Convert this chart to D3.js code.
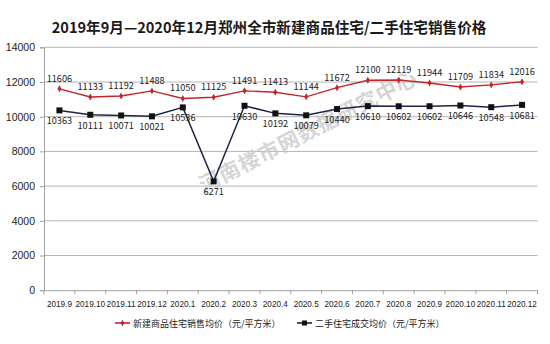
<!DOCTYPE html>
<html><head><meta charset="utf-8">
<script src="https://cdn.jsdelivr.net/npm/d3@7"></script>
<style>body{margin:0;background:#fff;} svg{display:block;}</style>
</head><body>
<svg id="c" width="550" height="344"></svg>
<script>
const categories = ["2019.9","2019.10","2019.11","2019.12","2020.1","2020.2","2020.3","2020.4","2020.5","2020.6","2020.7","2020.8","2020.9","2020.10","2020.11","2020.12"];
const newHomePrice = [11606,11133,11192,11488,11050,11125,11491,11413,11144,11672,12100,12119,11944,11709,11834,12016];
const resalePrice = [10363,10111,10071,10021,10536,6271,10630,10192,10079,10440,10610,10602,10602,10646,10548,10681];
const yTicks = [0,2000,4000,6000,8000,10000,12000,14000];
const seriesNames = ["新建商品住宅销售均价（元/平方米）","二手住宅成交均价（元/平方米）"];
const title = "2019年9月—2020年12月郑州全市新建商品住宅/二手住宅销售价格";
const watermark = "河南楼市网数据研究中心";

const svg = d3.select("#c");
const font = "'Noto Sans CJK SC', 'Noto Sans', sans-serif";
const numFont = "'Liberation Sans', Arial, sans-serif";
const L = 44, R = 537.5, T = 47.3, B = 290.2;
const x = d3.scaleBand().domain(categories).range([L, R]);
const y = d3.scaleLinear().domain([0, 14000]).range([B, T]);
const red = "#c0272d", navy = "#1c2549";

svg.append("text").attr("x", 269).attr("y", 33).attr("text-anchor", "middle")
  .attr("font-family", font).attr("font-weight", "bold").attr("font-size", 14.6).attr("fill", "#1a1a1a").text(title);

// gridlines
svg.append("g").selectAll("line").data(yTicks.filter(d => d > 0)).join("line")
  .attr("x1", L).attr("x2", R).attr("y1", d => y(d)).attr("y2", d => y(d))
  .attr("stroke", "#b4b4b4").attr("stroke-width", 1);

// y axis
const ya = svg.append("g").attr("transform", `translate(${L},0)`)
  .call(d3.axisLeft(y).tickValues(yTicks).tickSize(4).tickPadding(5).tickFormat(d3.format("d")));
ya.select(".domain").attr("stroke", "#a0a0a0");
ya.selectAll("line").attr("stroke", "#a0a0a0");
ya.selectAll("text").attr("font-family", numFont).attr("font-size", 10.5).attr("fill", "#222");

// x axis
const xa = svg.append("g").attr("transform", `translate(0,${B})`)
  .call(d3.axisBottom(x).tickSize(0).tickPadding(11));
xa.select(".domain").attr("stroke", "#a0a0a0");
xa.selectAll("text").attr("font-family", numFont).attr("font-size", 8.2).attr("fill", "#222");
svg.append("g").selectAll("line").data(d3.range(categories.length + 1)).join("line")
  .attr("x1", i => L + i * x.step()).attr("x2", i => L + i * x.step())
  .attr("y1", B).attr("y2", B + 4).attr("stroke", "#a0a0a0");

// watermark
svg.append("text").attr("transform", "translate(204,193) rotate(-27)")
  .attr("font-family", font).attr("font-weight", "bold").attr("font-size", 21)
  .attr("fill", "#c8c8c8").attr("opacity", 0.75).attr("letter-spacing", 1).text(watermark);

const cx = d => x(d) + x.bandwidth() / 2;
const line = d3.line().x(d => cx(d[0])).y(d => y(d[1]));

// new homes
const d1 = categories.map((c, i) => [c, newHomePrice[i]]);
svg.append("path").attr("d", line(d1)).attr("fill", "none").attr("stroke", red).attr("stroke-width", 1.4);
svg.append("g").selectAll("path").data(d1).join("path")
  .attr("d", d3.symbol(d3.symbolDiamond, 14)).attr("transform", d => `translate(${cx(d[0])},${y(d[1])})`).attr("fill", red);
svg.append("g").selectAll("text").data(d1).join("text")
  .attr("x", d => cx(d[0])).attr("y", d => y(d[1]) - 7).attr("text-anchor", "middle")
  .attr("font-family", font).attr("font-size", 9.2).attr("fill", "#222").text(d => d[1]);

// resale
const d2 = categories.map((c, i) => [c, resalePrice[i]]);
svg.append("path").attr("d", line(d2)).attr("fill", "none").attr("stroke", navy).attr("stroke-width", 1.5);
svg.append("g").selectAll("rect").data(d2).join("rect")
  .attr("x", d => cx(d[0]) - 3).attr("y", d => y(d[1]) - 3).attr("width", 6).attr("height", 6).attr("fill", "#111");
svg.append("g").selectAll("text").data(d2).join("text")
  .attr("x", d => cx(d[0])).attr("y", d => y(d[1]) + 14).attr("text-anchor", "middle")
  .attr("font-family", font).attr("font-size", 9.2).attr("fill", "#222").text(d => d[1]);

// legend
const lg = svg.append("g");
const items = [{x: 115, c: red, m: "d"}, {x: 297, c: navy, m: "s"}];
items.forEach((it, i) => {
  lg.append("line").attr("x1", it.x).attr("x2", it.x + 15).attr("y1", 323).attr("y2", 323).attr("stroke", it.c).attr("stroke-width", 1.6);
  if (it.m === "d") lg.append("path").attr("d", d3.symbol(d3.symbolDiamond, 12)).attr("transform", `translate(${it.x + 7.5},323)`).attr("fill", it.c);
  else lg.append("rect").attr("x", it.x + 5).attr("y", 320.5).attr("width", 5).attr("height", 5).attr("fill", "#111");
  lg.append("text").attr("x", it.x + 18).attr("y", 326.5).attr("font-family", font).attr("font-size", 9)
    .attr("fill", "#222").text(seriesNames[i]);
});
</script>
</body></html>
